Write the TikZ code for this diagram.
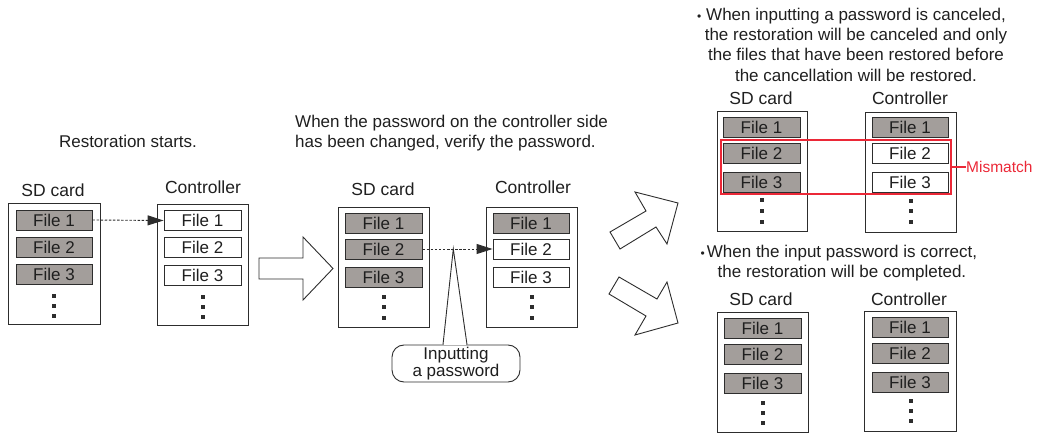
\documentclass[tikz,border=0pt]{standalone}
\usepackage{fontspec}
\setmainfont{Liberation Sans}
\usetikzlibrary{arrows.meta}
\definecolor{filegrey}{RGB}{163,158,155}
\definecolor{linec}{RGB}{45,45,45}
\definecolor{mred}{RGB}{235,40,55}
\newcommand\threedots[3]{%
  \foreach \k in {0,1,2}{\fill[linec] ({#1-2},{#2+\k*#3-2}) rectangle ({#1+2},{#2+\k*#3+2});}}
\tikzset{
  txt/.style={font=\fontsize{17}{20.5}\selectfont, inner sep=0pt, text=black!88},
  lbl/.style={font=\fontsize{17.5}{20}\selectfont, inner sep=0pt, text=black!88},
  card/.style={draw=linec, line width=0.9pt, fill=white, inner sep=0pt, minimum width=91pt, minimum height=120pt},
  gfile/.style={draw=linec, line width=0.9pt, fill=filegrey, inner sep=0pt, minimum width=77pt, minimum height=20pt, font=\fontsize{17}{20}\selectfont, text=black!88},
  wfile/.style={gfile, fill=white},
  flow/.style={draw=linec, line width=0.9pt, dash pattern=on 2.5pt off 1.6pt, -{Triangle[length=16pt,width=10pt]}},
  bigarrow/.style={draw=linec, line width=0.9pt, fill=white, line join=miter},
}
\begin{document}
\begin{tikzpicture}[x=1pt,y=-1pt]
\useasboundingbox (0,0) rectangle (1039,435);

% ---------- Panel 1 ----------
\node[txt] (t1) at (128,141) {Restoration starts.};
\node[lbl] (l1s) at (53,190) {SD card};
\node[lbl] (l1c) at (203,187) {Controller};
\node[card, minimum width=92pt, minimum height=121pt] (sd1) at (54,263.5) {};
\node[gfile, minimum width=76pt] (s1f1) at (54,220) {File 1};
\node[gfile, minimum width=76pt] (s1f2) at (54,247) {File 2};
\node[gfile, minimum width=76pt] (s1f3) at (54,274) {File 3};
\threedots{54}{296}{10}
\node[card, minimum height=121pt] (ct1) at (202.5,264.5) {};
\node[wfile] (c1f1) at (202.5,220.5) {File 1};
\node[wfile] (c1f2) at (202.5,247.5) {File 2};
\node[wfile] (c1f3) at (202.5,275.5) {File 3};
\threedots{203}{297}{10}
\draw[flow] (s1f1.east) -- (c1f1.west);

% big right arrow
\draw[bigarrow] (259,258) -- (303,258) -- (303,237) -- (333,268.5) -- (303,300) -- (303,279) -- (259,279) -- cycle;

% ---------- Panel 2 ----------
\node[txt, anchor=west, align=left] (t2) at (295,133) {When the password on the controller side\\has been changed, verify the password.};
\node[lbl] (l2s) at (383,189) {SD card};
\node[lbl] (l2c) at (533,187) {Controller};
\node[card] (sd2) at (383.5,267) {};
\node[gfile] (s2f1) at (383.5,223) {File 1};
\node[gfile] (s2f2) at (383.5,249) {File 2};
\node[gfile] (s2f3) at (383.5,277) {File 3};
\threedots{384}{297}{10.5}
\node[card] (ct2) at (531.5,267) {};
\node[gfile, minimum width=76pt] (c2f1) at (531,223) {File 1};
\node[wfile, minimum width=76pt] (c2f2) at (531,249) {File 2};
\node[wfile, minimum width=76pt] (c2f3) at (531,277) {File 3};
\threedots{532}{297}{10.5}
\draw[flow] (s2f2.east) -- (c2f2.west);
\path (s2f2.east) -- (c2f2.west) coordinate[pos=0.44] (ptip);

% callout
\node[draw=linec, line width=0.9pt, fill=white, rounded corners=12pt, minimum width=128pt, minimum height=37pt, inner sep=0pt, align=center, font=\fontsize{17}{15.5}\selectfont, text=black!88] (cb) at (456,363.5) {Inputting\\a password};
\draw[white, line width=1.6pt] ([xshift=-12.2pt]cb.north) -- ([xshift=10.2pt]cb.north);
\draw[draw=linec, line width=0.9pt, line join=miter] ([xshift=-13pt]cb.north) -- (ptip) -- ([xshift=11pt]cb.north);

% diagonal arrows
\draw[bigarrow] (610,232) -- (646,211) -- (635,192) -- (678,203) -- (667,244) -- (656,227) -- (620,249) -- cycle;
\draw[bigarrow] (619,277) -- (657,299) -- (667,282) -- (678,323) -- (635,335) -- (646,316) -- (609,294) -- cycle;

% ---------- Panel 3 ----------
\node[txt, align=center, font=\fontsize{17}{20.3}\selectfont] (t3) at (856,44.5) {\llap{{\fontsize{12}{12}\selectfont\textbullet}\hspace{5pt}}When inputting a password is canceled,\\the restoration will be canceled and only\\the files that have been restored before\\the cancellation will be restored.};
\node[lbl] (l3s) at (761,98) {SD card};
\node[lbl] (l3c) at (910,98) {Controller};
\node[card, minimum width=90pt] (sd3) at (762,171) {};
\node[gfile] (s3f1) at (761.5,127) {File 1};
\node[gfile] (s3f2) at (761.5,153) {File 2};
\node[gfile] (s3f3) at (761.5,182) {File 3};
\threedots{762}{200.5}{10.8}
\node[card] (ct3) at (910.5,172) {};
\node[gfile, minimum width=76pt] (c3f1) at (910,127) {File 1};
\node[wfile, minimum width=76pt] (c3f2) at (910,153) {File 2};
\node[wfile, minimum width=76pt] (c3f3) at (910,182) {File 3};
\threedots{911}{201}{10.5}
\node[draw=mred, line width=1.2pt, minimum width=230pt, minimum height=54pt, inner sep=0pt] (mm) at (836,167) {};
\node[inner sep=0pt, anchor=west, text=mred, font=\fontsize{15.5}{18}\selectfont] (mml) at (966,167) {Mismatch};
\draw[mred, line width=1.2pt] (mm.east) -- (mml.west);

% ---------- Panel 4 ----------
\node[txt, align=center] (t4) at (842,263) {\llap{{\fontsize{12}{12}\selectfont\textbullet}\hspace{2pt}}When the input password is correct,\\the restoration will be completed.};
\node[lbl] (l4s) at (761,299) {SD card};
\node[lbl] (l4c) at (909,299) {Controller};
\node[card] (sd4) at (762.5,372) {};
\node[gfile] (s4f1) at (762.5,328) {File 1};
\node[gfile] (s4f2) at (762.5,354) {File 2};
\node[gfile] (s4f3) at (762.5,383) {File 3};
\threedots{763}{403}{10}
\node[card, minimum width=92pt] (ct4) at (910,371) {};
\node[gfile, minimum width=76pt] (c4f1) at (910,327) {File 1};
\node[gfile, minimum width=76pt] (c4f2) at (910,353) {File 2};
\node[gfile, minimum width=76pt] (c4f3) at (910,382) {File 3};
\threedots{911}{401}{10}
\end{tikzpicture}
\end{document}
